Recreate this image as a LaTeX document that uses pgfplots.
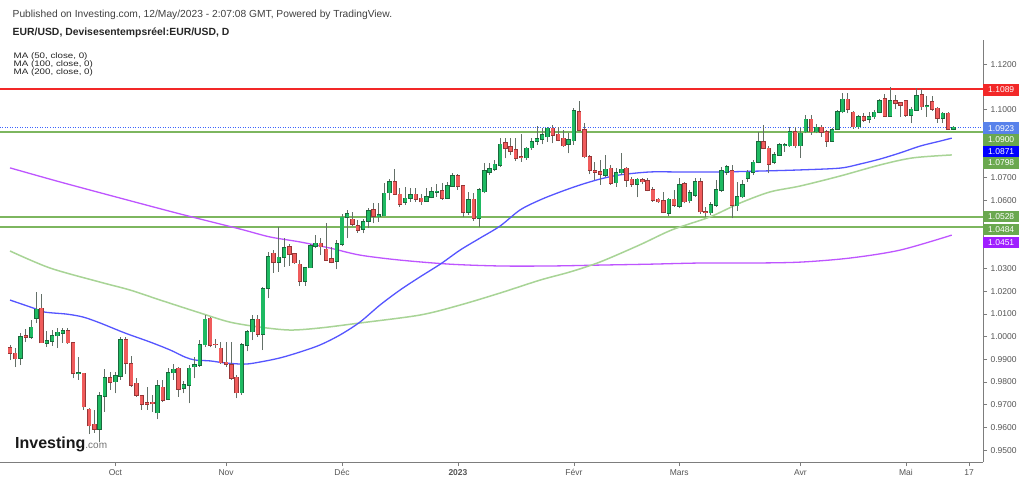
\documentclass[border=0pt]{standalone}
\usepackage{fontspec}
\setmainfont{Liberation Sans}
\usepackage{pgfplots}
\usepackage{pgfplotstable}
\pgfplotsset{compat=1.18}

\definecolor{upfill}{RGB}{30,186,98}
\definecolor{upedge}{RGB}{25,105,60}
\definecolor{dnfill}{RGB}{240,92,92}
\definecolor{dnedge}{RGB}{150,55,55}
\definecolor{wickc}{RGB}{100,112,104}
\definecolor{maA}{RGB}{85,85,255}
\definecolor{maB}{RGB}{168,212,150}
\definecolor{maC}{RGB}{190,85,255}
\definecolor{levelred}{RGB}{242,40,40}
\definecolor{lvlgreen}{RGB}{125,182,95}
\definecolor{curblue}{RGB}{60,100,255}
\definecolor{boxgreen}{RGB}{106,168,79}
\definecolor{boxblue}{RGB}{0,0,255}
\definecolor{boxcur}{RGB}{88,130,235}
\definecolor{boxpurple}{RGB}{160,30,255}
\definecolor{txtgrey}{RGB}{85,85,85}
\definecolor{axgrey}{RGB}{125,125,125}

\pgfplotstableread{
i O H L C
2 0.9905 1.0016 0.9875 0.9999
4 0.9997 1.0073 0.9990 1.0041
5 1.0081 1.0198 1.0059 1.0120
7 0.9971 1.0026 0.9956 0.9981
8 0.9981 1.0029 0.9959 1.0003
9 1.0004 1.0037 0.9949 1.0019
10 1.0015 1.0038 0.9972 1.0025
13 0.9837 0.9912 0.9809 0.9840
17 0.9594 0.9758 0.9537 0.9739
18 0.9739 0.9856 0.9669 0.9817
20 0.9802 0.9845 0.9750 0.9827
21 0.9827 0.9999 0.9810 0.9985
28 0.9665 0.9809 0.9636 0.9783
30 0.9724 0.9860 0.9720 0.9841
31 0.9841 0.9878 0.9809 0.9856
33 0.9772 0.9805 0.9750 0.9787
34 0.9787 0.9875 0.9706 0.9860
35 0.9868 0.9912 0.9816 0.9875
36 0.9875 0.9985 0.9868 0.9965
37 0.9965 1.0095 0.9956 1.0076
44 0.9753 0.9970 0.9745 0.9963
45 0.9963 1.0030 0.9935 1.0022
46 1.0022 1.0095 0.9985 1.0073
48 1.0012 1.0220 0.9941 1.0209
49 1.0213 1.0374 1.0169 1.0352
51 1.0327 1.0484 1.0286 1.0349
52 1.0349 1.0433 1.0308 1.0392
56 1.0245 1.0308 1.0225 1.0303
57 1.0303 1.0407 1.0300 1.0399
58 1.0399 1.0448 1.0389 1.0411
62 1.0332 1.0425 1.0296 1.0408
63 1.0408 1.0540 1.0400 1.0525
64 1.0525 1.0558 1.0433 1.0540
67 1.0473 1.0520 1.0455 1.0506
68 1.0509 1.0565 1.0480 1.0554
70 1.0528 1.0587 1.0506 1.0535
71 1.0533 1.0675 1.0530 1.0631
72 1.0634 1.0695 1.0600 1.0682
75 1.0591 1.0660 1.0580 1.0609
76 1.0609 1.0655 1.0594 1.0624
79 1.0597 1.0655 1.0594 1.0616
80 1.0613 1.0660 1.0609 1.0637
81 1.0637 1.0672 1.0616 1.0640
83 1.0609 1.0680 1.0605 1.0663
84 1.0663 1.0719 1.0660 1.0707
87 1.0547 1.0635 1.0536 1.0602
89 1.0521 1.0653 1.0484 1.0646
90 1.0638 1.0763 1.0631 1.0729
91 1.0724 1.0763 1.0712 1.0738
92 1.0737 1.0778 1.0729 1.0759
93 1.0756 1.0873 1.0748 1.0847
98 1.0788 1.0836 1.0778 1.0829
99 1.0832 1.0873 1.0822 1.0858
100 1.0861 1.0927 1.0844 1.0870
101 1.0870 1.0917 1.0847 1.0888
102 1.0880 1.0924 1.0858 1.0917
106 1.0848 1.0895 1.0807 1.0866
107 1.0863 1.1005 1.0844 1.0993
113 1.0712 1.0800 1.0704 1.0737
115 1.0678 1.0741 1.0660 1.0722
116 1.0722 1.0807 1.0712 1.0737
119 1.0671 1.0697 1.0613 1.0693
125 1.0543 1.0610 1.0533 1.0605
127 1.0575 1.0697 1.0565 1.0668
129 1.0598 1.0645 1.0587 1.0634
130 1.0624 1.0697 1.0616 1.0682
133 1.0546 1.0594 1.0535 1.0580
134 1.0580 1.0690 1.0572 1.0646
135 1.0646 1.0748 1.0638 1.0729
136 1.0724 1.0756 1.0712 1.0748
138 1.0577 1.0682 1.0553 1.0616
139 1.0616 1.0690 1.0609 1.0668
140 1.0697 1.0734 1.0682 1.0724
141 1.0724 1.0778 1.0712 1.0768
142 1.0768 1.0902 1.0763 1.0858
145 1.0768 1.0814 1.0759 1.0800
146 1.0800 1.0851 1.0797 1.0844
147 1.0841 1.0851 1.0814 1.0844
148 1.0841 1.0924 1.0836 1.0902
150 1.0841 1.0920 1.0788 1.0895
151 1.0902 1.0976 1.0895 1.0957
153 1.0902 1.0935 1.0895 1.0922
156 1.0861 1.0917 1.0858 1.0910
157 1.0913 1.0998 1.0910 1.0990
158 1.0990 1.1071 1.0983 1.1045
161 1.0924 1.0975 1.0915 1.0968
163 1.0957 1.0990 1.0939 1.0968
164 1.0968 1.1000 1.0960 1.0988
165 1.0988 1.1045 1.0983 1.1039
167 1.0971 1.1098 1.0968 1.1039
171 1.0976 1.1010 1.0940 1.1001
172 1.0998 1.1093 1.0995 1.1060
174 1.1012 1.1060 1.0968 1.1016
177 1.0961 1.0990 1.0940 1.0983
179 1.0913 1.0927 1.0909 1.0922
}\up

\pgfplotstableread{
i O H L C
0 0.9951 0.9963 0.9897 0.9927
1 0.9927 0.9950 0.9866 0.9903
3 1.0004 1.0033 0.9976 0.9997
6 1.0125 1.0188 0.9972 0.9973
11 1.0025 1.0038 0.9968 0.9973
12 0.9973 0.9978 0.9816 0.9838
14 0.9838 0.9840 0.9677 0.9691
15 0.9680 0.9687 0.9571 0.9608
16 0.9614 0.9677 0.9576 0.9594
19 0.9817 0.9846 0.9765 0.9799
22 0.9985 1.0000 0.9835 0.9882
23 0.9879 0.9915 0.9780 0.9787
24 0.9794 0.9818 0.9735 0.9743
25 0.9739 0.9743 0.9677 0.9702
26 0.9707 0.9779 0.9677 0.9702
27 0.9711 0.9743 0.9670 0.9705
29 0.9777 0.9808 0.9710 0.9721
32 0.9860 0.9868 0.9735 0.9769
38 1.0081 1.0088 0.9953 0.9963
39 0.9966 0.9990 0.9951 0.9964
40 0.9949 0.9978 0.9880 0.9885
41 0.9887 0.9978 0.9867 0.9878
42 0.9875 0.9978 0.9809 0.9817
43 0.9821 0.9831 0.9728 0.9753
47 1.0076 1.0095 1.0000 1.0012
50 1.0367 1.0381 1.0282 1.0327
53 1.0396 1.0406 1.0311 1.0364
54 1.0364 1.0370 1.0320 1.0326
55 1.0318 1.0337 1.0224 1.0245
59 1.0411 1.0433 1.0359 1.0396
60 1.0385 1.0499 1.0333 1.0337
61 1.0342 1.0396 1.0323 1.0327
65 1.0517 1.0550 1.0485 1.0495
66 1.0488 1.0514 1.0458 1.0469
69 1.0557 1.0590 1.0499 1.0531
73 1.0682 1.0737 1.0624 1.0627
74 1.0627 1.0653 1.0572 1.0583
77 1.0627 1.0655 1.0594 1.0605
78 1.0609 1.0630 1.0580 1.0594
82 1.0641 1.0675 1.0602 1.0609
85 1.0707 1.0716 1.0646 1.0663
86 1.0663 1.0668 1.0525 1.0547
88 1.0605 1.0631 1.0510 1.0521
94 1.0854 1.0873 1.0785 1.0829
95 1.0836 1.0876 1.0800 1.0817
96 1.0822 1.0873 1.0773 1.0785
97 1.0792 1.0891 1.0770 1.0789
103 1.0917 1.0932 1.0851 1.0888
104 1.0891 1.0925 1.0860 1.0866
105 1.0873 1.0910 1.0836 1.0841
108 1.0990 1.1038 1.0905 1.0910
109 1.0910 1.0939 1.0785 1.0792
110 1.0792 1.0800 1.0715 1.0734
111 1.0729 1.0770 1.0690 1.0724
112 1.0726 1.0778 1.0668 1.0715
114 1.0741 1.0756 1.0668 1.0675
117 1.0741 1.0748 1.0660 1.0690
118 1.0693 1.0705 1.0660 1.0671
120 1.0690 1.0697 1.0670 1.0682
121 1.0687 1.0697 1.0640 1.0646
122 1.0646 1.0660 1.0594 1.0602
123 1.0605 1.0610 1.0590 1.0594
124 1.0597 1.0638 1.0543 1.0547
126 1.0605 1.0646 1.0572 1.0580
128 1.0672 1.0682 1.0587 1.0594
131 1.0682 1.0697 1.0540 1.0550
132 1.0550 1.0572 1.0525 1.0546
137 1.0729 1.0756 1.0521 1.0580
143 1.0858 1.0932 1.0825 1.0829
144 1.0829 1.0839 1.0719 1.0759
149 1.0902 1.0925 1.0830 1.0841
152 1.0957 1.0976 1.0888 1.0902
154 1.0922 1.0930 1.0880 1.0900
155 1.0902 1.0910 1.0836 1.0861
159 1.1045 1.1074 1.0983 1.1001
160 1.0988 1.0995 1.0915 1.0924
162 1.0968 1.0983 1.0946 1.0954
166 1.1046 1.1068 1.0968 1.0971
168 1.1039 1.1064 1.1001 1.1027
169 1.1030 1.1034 1.0968 1.1020
170 1.1039 1.1042 1.0968 1.0976
173 1.1064 1.1092 1.1000 1.1012
175 1.1034 1.1060 1.0995 1.1002
176 1.1005 1.1010 1.0942 1.0961
178 1.0983 1.0990 1.0910 1.0914
}\dn

\pgfplotsset{
  candlebase/.style={draw=none, mark=none, forget plot, error bars/.cd, y dir=plus, y explicit, error mark=none},
}
\tikzset{
  valbox/.style={anchor=west, text=white, inner sep=0pt, minimum width=36pt, minimum height=11.8pt, font=\fontsize{8.5}{10}\selectfont},
  malabel/.style={anchor=west, inner sep=0pt, text=black!85, font=\fontsize{8}{8}\selectfont},
}

\begin{document}
\begin{tikzpicture}
\fill[white] (0,0) rectangle (1024pt,482pt);
\useasboundingbox (0,0) rectangle (1024pt,482pt);
\begin{axis}[
  at={(0pt,20pt)}, anchor=south west,
  scale only axis, width=983pt, height=422pt,
  xmin=-1.9, xmax=184.63,
  ymin=0.94479, ymax=1.13061,
  clip mode=individual,
  axis x line*=bottom, axis y line*=right,
  axis line style={draw=axgrey, line width=0.8pt},
  tick align=outside, major tick length=4pt,
  tick style={draw=axgrey, line width=0.6pt},
  xtick={20,41,63,85,107,127,150,170,182},
  xticklabels={Oct,Nov,Déc,\textbf{2023},Févr,Mars,Avr,Mai,17},
  xticklabel style={font=\fontsize{8.5}{10}\selectfont, text=txtgrey},
  ytick={0.95,0.96,0.97,0.98,0.99,1.00,1.01,1.02,1.03,1.06,1.07,1.10,1.12},
  scaled y ticks=false,
  yticklabel style={font=\fontsize{8.5}{10}\selectfont, text=txtgrey, /pgf/number format/.cd, fixed, fixed zerofill, precision=4},
  /pgf/number format/assume math mode=true,
]
% level lines
\addplot[draw=lvlgreen, line width=2pt, forget plot] coordinates {(-1.9,1.0900) (184.63,1.0900)};
\addplot[draw=lvlgreen, line width=2pt, forget plot] coordinates {(-1.9,1.0528) (184.63,1.0528)};
\addplot[draw=lvlgreen, line width=2pt, forget plot] coordinates {(-1.9,1.0484) (184.63,1.0484)};
\addplot[draw=levelred, line width=2pt, forget plot] coordinates {(-1.9,1.1089) (184.63,1.1089)};
\addplot[draw=curblue, line width=1pt, dash pattern=on 1pt off 1.5pt, forget plot] coordinates {(-1.9,1.0923) (184.63,1.0923)};
% moving averages
\addplot[draw=maC, line width=1.3pt, smooth, forget plot] coordinates {
(0,1.0743) (9.5,1.0681) (20.9,1.0610) (32.3,1.0540) (43.6,1.0474) (49.3,1.0439) (55.0,1.0417) (60.7,1.0390) (66.4,1.0359) (74.0,1.0337) (83.5,1.0319) (93.0,1.0311) (102.5,1.0311) (112.0,1.0315) (121.4,1.0319) (130.9,1.0324) (140.4,1.0324) (149.9,1.0328) (159.4,1.0346) (168.9,1.0381) (178.7,1.0447)};
\addplot[draw=maB, line width=1.5pt, smooth, forget plot] coordinates {
(0,1.0377) (7.6,1.0302) (17.1,1.0240) (22.8,1.0205) (28.5,1.0161) (36.1,1.0104) (41.7,1.0064) (47.4,1.0042) (53.1,1.0029) (58.8,1.0038) (66.4,1.0060) (77.8,1.0095) (85.4,1.0139) (93.0,1.0192) (100.6,1.0249) (106.3,1.0285) (112.0,1.0329) (119.5,1.0404) (125.6,1.0470) (132.8,1.0527) (138.5,1.0588) (144.2,1.0637) (149.9,1.0663) (157.5,1.0707) (165.1,1.0756) (171.3,1.0787) (178.7,1.0800)};
\addplot[draw=maA, line width=1.3pt, smooth, forget plot] coordinates {
(0,1.0161) (4.4,1.0126) (6.6,1.0108) (10.8,1.0099) (13.9,1.0086) (17.1,1.0060) (21.8,1.0016) (26.6,0.9976) (30.4,0.9941) (33.2,0.9910) (35.1,0.9897) (38.0,0.9893) (40.8,0.9884) (44.6,0.9879) (47.4,0.9888) (51.2,0.9906) (55.0,0.9932) (58.8,0.9963) (62.6,1.0007) (66.4,1.0064) (70.2,1.0139) (74.0,1.0205) (77.8,1.0263) (81.7,1.0320) (85.4,1.0381) (89.2,1.0434) (93.0,1.0487) (96.8,1.0558) (100.6,1.0602) (104.4,1.0637) (108.2,1.0668) (112.0,1.0694) (115.7,1.0712) (121.4,1.0725) (127.1,1.0725) (134.7,1.0725) (142.3,1.0729) (149.9,1.0734) (157.5,1.0742) (161.3,1.0760) (165.1,1.0782) (168.9,1.0809) (172.7,1.0839) (176.5,1.0861) (178.7,1.0874)};
% candles: wicks
\addplot[candlebase, error bar style={draw=wickc, line width=1pt}] table[x=i, y=L, y error plus expr=\thisrow{H}-\thisrow{L}] {\up};
\addplot[candlebase, error bar style={draw=wickc, line width=1pt}] table[x=i, y=L, y error plus expr=\thisrow{H}-\thisrow{L}] {\dn};
% candles: bodies
\addplot[candlebase, error bar style={draw=upedge, line width=4.4pt}] table[x=i, y expr=\thisrow{O}-0.0003, y error plus expr=\thisrow{C}-\thisrow{O}+0.0006] {\up};
\addplot[candlebase, error bar style={draw=upfill, line width=3.1pt}] table[x=i, y=O, y error plus expr=\thisrow{C}-\thisrow{O}] {\up};
\addplot[candlebase, error bar style={draw=dnedge, line width=4.4pt}] table[x=i, y expr=\thisrow{C}-0.0003, y error plus expr=\thisrow{O}-\thisrow{C}+0.0006] {\dn};
\addplot[candlebase, error bar style={draw=dnfill, line width=3.1pt}] table[x=i, y=C, y error plus expr=\thisrow{O}-\thisrow{C}] {\dn};
% value boxes
\node[valbox, fill=levelred] at (axis cs:184.63,1.1087) {1.1089};
\node[valbox, fill=boxcur] at (axis cs:184.63,1.0918) {1.0923};
\node[valbox, fill=boxgreen] at (axis cs:184.63,1.0866) {1.0900};
\node[valbox, fill=boxblue] at (axis cs:184.63,1.0815) {1.0871};
\node[valbox, fill=boxgreen] at (axis cs:184.63,1.0765) {1.0798};
\node[valbox, fill=boxgreen] at (axis cs:184.63,1.0529) {1.0528};
\node[valbox, fill=boxgreen] at (axis cs:184.63,1.0472) {1.0484};
\node[valbox, fill=boxpurple] at (axis cs:184.63,1.0414) {1.0451};
\end{axis}
% header texts
\node[anchor=west, inner sep=0pt, text=black!75, font=\fontsize{10.25}{12}\selectfont] at (12.5pt,467pt) {Published on Investing.com, 12/May/2023 - 2:07:08 GMT, Powered by TradingView.};
\node[anchor=west, inner sep=0pt, text=black!85, font=\bfseries\fontsize{10.4}{12}\selectfont] at (12.5pt,449pt) {EUR/USD, Devisesentempsréel:EUR/USD, D};
\node[malabel] at (13.5pt,425.5pt) {\scalebox{1.22}[1]{MA (50, close, 0)}};
\node[malabel] at (13.5pt,417.5pt) {\scalebox{1.22}[1]{MA (100, close, 0)}};
\node[malabel] at (13.5pt,409.5pt) {\scalebox{1.22}[1]{MA (200, close, 0)}};
% logo
\node[anchor=base west, inner sep=0pt, font=\bfseries\fontsize{16}{18}\selectfont, text=black!90] at (15pt,34pt) {Investing\textcolor{black!55}{\fontsize{10}{12}\selectfont\mdseries .com}};
\end{tikzpicture}
\end{document}
